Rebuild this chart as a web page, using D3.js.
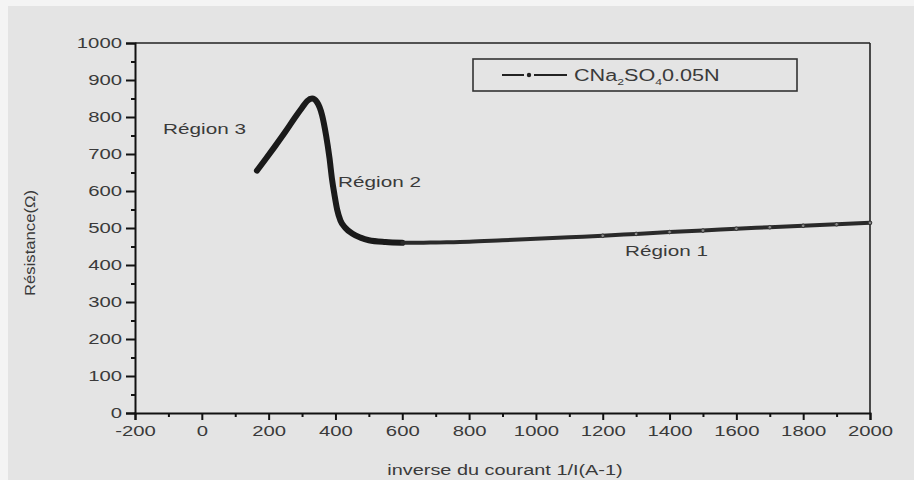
<!DOCTYPE html>
<html><head><meta charset="utf-8">
<script src="https://cdn.jsdelivr.net/npm/d3@7"></script>
<style>body{margin:0;background:#f4f4f4;}svg{display:block;}</style>
</head><body><svg id="c" width="914" height="480"></svg>
<script>
const xValues = [165,190,220,250,280,300,315,330,345,360,372,382,390,397,405,415,430,450,475,500,550,600,650,700,800,900,1000,1100,1200,1300,1400,1500,1600,1700,1800,1900,2000];
const yValues = [655,685,722,760,800,825,843,850,840,805,750,690,630,590,550,520,500,485,474,467,462,460,460,461,463,467,471,475,479,484,489,493,498,502,506,510,514];
const xTicks = [-200,0,200,400,600,800,1000,1200,1400,1600,1800,2000];
const yTicks = [0,100,200,300,400,500,600,700,800,900,1000];
const regionLabels = [
  {text:"Région 3", x:-116, y:765},
  {text:"Région 2", x:408, y:622},
  {text:"Région 1", x:1267, y:435}
];

const svg = d3.select("#c");
svg.append("rect").attr("x",8).attr("y",6).attr("width",906).attr("height",474).attr("fill","#e4e4e4");

const L=135,R=870,T=43,B=413;
const x = d3.scaleLinear().domain([-200,2000]).range([L,R]);
const y = d3.scaleLinear().domain([0,1000]).range([B,T]);
const font = "'Liberation Sans', Arial, sans-serif";
const ink = "#3a3a3a";
function stretch(sel, f){ sel.each(function(){ const w=this.getComputedTextLength(); d3.select(this).attr("textLength",w*f).attr("lengthAdjust","spacingAndGlyphs"); }); }

// frame top/right
svg.append("line").attr("x1",L).attr("x2",R).attr("y1",T).attr("y2",T).attr("stroke","#222").attr("stroke-width",1.6);
svg.append("line").attr("x1",R).attr("x2",R).attr("y1",T).attr("y2",B).attr("stroke","#222").attr("stroke-width",1.6);

const fmt = d => String(d);
// x axis
svg.append("g").attr("transform",`translate(0,${B})`)
  .call(d3.axisBottom(x).tickValues(xTicks).tickSize(7).tickPadding(6).tickFormat(fmt));
svg.append("g").attr("transform",`translate(0,${B})`)
  .call(d3.axisBottom(x).tickValues(d3.range(-100,2000,200)).tickSize(4).tickFormat(""))
  .call(g=>g.select(".domain").remove());
// y axis
svg.append("g").attr("transform",`translate(${L},0)`)
  .call(d3.axisLeft(y).tickValues(yTicks).tickSize(9).tickPadding(4).tickFormat(fmt));
svg.append("g").attr("transform",`translate(${L},0)`)
  .call(d3.axisLeft(y).tickValues(d3.range(50,1000,100)).tickSize(4).tickFormat(""))
  .call(g=>g.select(".domain").remove());

svg.selectAll(".domain").attr("stroke","#111").attr("stroke-width",2);
svg.selectAll(".tick line").attr("stroke","#111").attr("stroke-width",2);
svg.selectAll(".tick text").attr("font-family",font).attr("font-size",14).attr("fill",ink).call(stretch,1.45);

// axis titles
svg.append("text").attr("x",505).attr("y",475).attr("text-anchor","middle")
  .attr("font-family",font).attr("font-size",14).attr("fill",ink).text("inverse du courant 1/I(A-1)").call(stretch,1.42);
svg.append("text").attr("transform","translate(35,243) rotate(-90)").attr("text-anchor","middle")
  .attr("font-family",font).attr("font-size",14).attr("fill",ink).attr("textLength",106).attr("lengthAdjust","spacingAndGlyphs").text("Résistance(Ω)");

// data
const pts = xValues.map((v,i)=>[v,yValues[i]]);
const line = d3.line().x(d=>x(d[0])).y(d=>y(d[1])).curve(d3.curveMonotoneX);
svg.append("path").datum(pts.filter(d=>d[0]<=600)).attr("d",line).attr("fill","none")
  .attr("stroke","#1a1a1a").attr("stroke-width",6).attr("stroke-linecap","round").attr("stroke-linejoin","round");
svg.append("path").datum(pts.filter(d=>d[0]>=600)).attr("d",line).attr("fill","none")
  .attr("stroke","#2a2a2a").attr("stroke-width",4).attr("stroke-linecap","round");
svg.append("g").selectAll("circle").data(pts.filter(d=>d[0]>=1200)).join("circle")
  .attr("cx",d=>x(d[0])).attr("cy",d=>y(d[1])).attr("r",1.8).attr("fill","#888").attr("stroke","#333").attr("stroke-width",1);

// region labels
svg.append("g").selectAll("text").data(regionLabels).join("text")
  .attr("x",d=>x(d.x)).attr("y",d=>y(d.y)).attr("font-family",font).attr("font-size",15).attr("fill",ink)
  .attr("dominant-baseline","middle").text(d=>d.text).call(stretch,1.38);

// legend
const lg = svg.append("g");
lg.append("rect").attr("x",473).attr("y",59).attr("width",324).attr("height",32).attr("fill","none").attr("stroke","#333").attr("stroke-width",1.6);
lg.append("line").attr("x1",502).attr("x2",567).attr("y1",75).attr("y2",75).attr("stroke","#222").attr("stroke-width",2);
lg.append("rect").attr("x",524).attr("y",72).attr("width",10).attr("height",6).attr("fill","#e4e4e4");
lg.append("circle").attr("cx",529).attr("cy",75).attr("r",2.2).attr("fill","#222");
const t = lg.append("text").attr("x",574).attr("y",81).attr("font-family",font).attr("font-size",16).attr("fill",ink);
const parts = [["CNa",0],["2",1],["SO",0],["4",1],["0.05N",0]];
parts.forEach(([s,sub])=>{
  t.append("tspan").attr("font-size",sub?9:16).attr("dy",sub?4:(s==="CNa"?0:-4)).text(s);
});
t.call(stretch,1.35);
</script></body></html>
